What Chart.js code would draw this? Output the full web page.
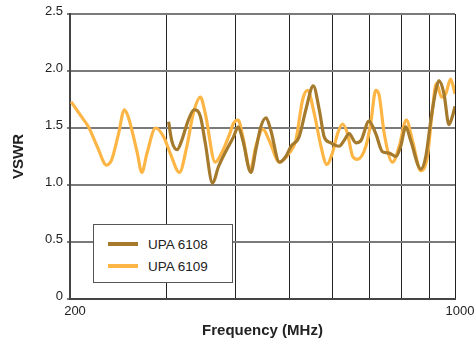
<!DOCTYPE html>
<html>
<head>
<meta charset="utf-8">
<script src="https://cdn.jsdelivr.net/npm/chart.js@4"></script>
<style>
  body { margin: 0; background: #fff; }
  #wrap { position: relative; width: 476px; height: 346px; }
  #legend {
    position: absolute; left: 93px; top: 224px; width: 138px; height: 57px;
    border: 1px solid #555; background: #fff;
    font-family: "Liberation Sans", Arial, sans-serif; font-size: 13.5px; color: #222;
  }
  #legend .item { position: absolute; left: 14px; height: 20px; display: flex; align-items: center; }
  #legend .swatch { width: 30px; height: 4px; margin-right: 10px; }
</style>
</head>
<body>
<div id="wrap">
  <canvas id="chart" width="476" height="346"></canvas>
  <div id="legend"></div>
</div>
<script>
// UPA 6108 (dark)
const freq6108 = [302, 306, 313, 319, 328, 336, 345, 352, 363, 372, 385, 396, 404, 412, 426, 435, 444, 454, 463, 480,
  493, 504, 521, 536, 553, 567, 579, 595, 616, 629, 642, 661, 675, 698, 718, 739, 759, 781, 797, 814,
  831, 867, 885, 904, 923, 935, 955, 975, 989, 1000];
const vswr6108 = [1.555, 1.39, 1.31, 1.39, 1.57, 1.66, 1.60, 1.37, 1.015, 1.16, 1.31, 1.42, 1.51, 1.39, 1.11, 1.31, 1.51, 1.59, 1.48, 1.20,
  1.25, 1.34, 1.42, 1.66, 1.87, 1.66, 1.42, 1.37, 1.34, 1.39, 1.45, 1.37, 1.39, 1.56, 1.45, 1.29, 1.28, 1.25, 1.34, 1.51,
  1.39, 1.14, 1.25, 1.57, 1.83, 1.915, 1.80, 1.53, 1.60, 1.69];

// UPA 6109 (light)
const freq6109 = [201, 209, 216, 224, 233, 238, 245, 251, 255, 265, 270, 276, 286, 296, 304, 316, 326, 335, 345, 352,
  367, 377, 390, 396, 404, 412, 425, 435, 448, 460, 480, 500, 514, 529, 540, 555, 571, 585, 599, 612,
  625, 638, 652, 665, 689, 703, 718, 728, 744, 770, 792, 816, 837, 867, 891, 910, 925, 946, 962, 982, 1000];
const vswr6109 = [1.73, 1.61, 1.51, 1.34, 1.175, 1.22, 1.45, 1.66, 1.60, 1.28, 1.11, 1.28, 1.50, 1.42, 1.28, 1.11, 1.34, 1.63, 1.77, 1.63,
  1.20, 1.28, 1.45, 1.54, 1.57, 1.42, 1.13, 1.34, 1.49, 1.39, 1.20, 1.28, 1.39, 1.75, 1.83, 1.63, 1.34, 1.18, 1.28, 1.45,
  1.535, 1.45, 1.25, 1.225, 1.34, 1.54, 1.83, 1.79, 1.45, 1.20, 1.34, 1.57, 1.39, 1.125, 1.25, 1.66, 1.89, 1.77, 1.80, 1.93, 1.80];

const seriesNames = ['UPA 6108', 'UPA 6109'];
const seriesColors = ['#a57a2c', '#fdb646'];

const xGridTicks = [200, 300, 400, 500, 600, 700, 800, 900, 1000];
const xLabelTicks = [200, 1000];
const yTicks = [0, 0.5, 1.0, 1.5, 2.0, 2.5];

const font = '"Liberation Sans", Arial, Helvetica, sans-serif';

const toPoints = (xs, ys) => xs.map((x, i) => ({ x, y: ys[i] }));

const datasets = [
  { label: seriesNames[0], data: toPoints(freq6108, vswr6108), borderColor: seriesColors[0] },
  { label: seriesNames[1], data: toPoints(freq6109, vswr6109), borderColor: seriesColors[1] }
].map(d => Object.assign(d, {
  borderWidth: 3.2,
  pointRadius: 0,
  fill: false,
  cubicInterpolationMode: 'monotone'
}));

new Chart(document.getElementById('chart'), {
  type: 'line',
  data: { datasets },
  options: {
    responsive: false,
    animation: false,
    layout: { padding: { left: 0, top: 14, right: 21, bottom: 0 } },
    plugins: { legend: { display: false }, tooltip: { enabled: false } },
    scales: {
      x: {
        type: 'logarithmic',
        min: 200,
        max: 1000,
        afterBuildTicks: s => { s.ticks = xGridTicks.map(v => ({ value: v })); },
        afterFit: s => { s.height = 47; },
        ticks: {
          autoSkip: false,
          maxRotation: 0,
          padding: 5,
          labelOffset: 5,
          color: '#222',
          font: { family: font, size: 13 },
          callback: v => xLabelTicks.includes(v) ? String(v) : ''
        },
        grid: { color: '#222', lineWidth: 1, drawTicks: false },
        border: { color: '#444', width: 2 },
        title: {
          display: true,
          text: 'Frequency (MHz)',
          color: '#222',
          font: { family: font, size: 15, weight: 'bold' },
          padding: { top: 0, bottom: 6 }
        }
      },
      y: {
        min: 0,
        max: 2.5,
        afterBuildTicks: s => { s.ticks = yTicks.map(v => ({ value: v })); },
        afterFit: s => { s.width = 70; },
        ticks: {
          padding: 4,
          labelOffset: -3,
          color: '#222',
          font: { family: font, size: 13 },
          callback: v => v === 0 ? '0' : v.toFixed(1)
        },
        grid: { color: '#7a7a7a', lineWidth: 2, tickLength: 3 },
        border: { color: '#444', width: 2 },
        title: {
          display: true,
          text: 'VSWR',
          color: '#222',
          font: { family: font, size: 15, weight: 'bold' },
          padding: { top: 10, bottom: 0 }
        }
      }
    }
  }
});

// legend box inside the plot, built from the series names/colours
const legend = document.getElementById('legend');
seriesNames.forEach((name, i) => {
  const item = document.createElement('div');
  item.className = 'item';
  item.style.top = (9 + i * 22) + 'px';
  const sw = document.createElement('span');
  sw.className = 'swatch';
  sw.style.background = seriesColors[i];
  const txt = document.createElement('span');
  txt.textContent = name;
  item.appendChild(sw);
  item.appendChild(txt);
  legend.appendChild(item);
});
</script>
</body>
</html>
